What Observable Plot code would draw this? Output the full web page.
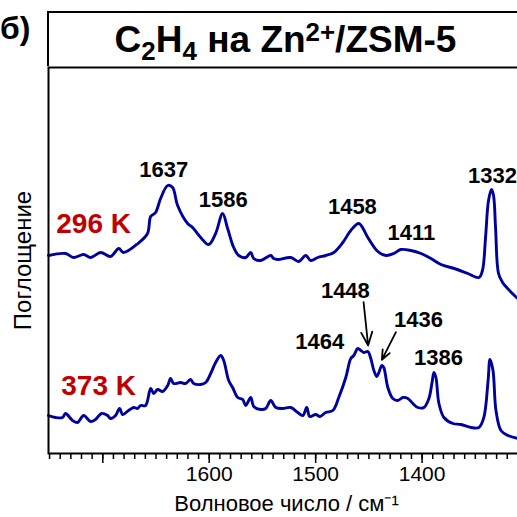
<!DOCTYPE html>
<html><head><meta charset="utf-8">
<script src="https://cdn.jsdelivr.net/npm/d3@7"></script>
<script src="https://cdn.jsdelivr.net/npm/@observablehq/plot@0.6"></script>
<style>
html,body{margin:0;padding:0;overflow:hidden;background:#fff;width:517px;height:517px;}
#wrap{position:relative;width:526px;height:517px;font-family:"Liberation Sans",Arial,sans-serif;color:#000;}
#head{position:relative;height:66px;}
#panel{position:absolute;left:0px;top:12px;font-size:32px;font-weight:bold;line-height:32px;white-space:nowrap;}
#tbox{position:absolute;left:47px;top:11px;width:477px;height:55px;border:2px solid #000;border-bottom:none;box-sizing:border-box;}
#ttext{position:absolute;left:47px;width:477px;top:21px;text-align:center;font-size:37px;font-weight:bold;line-height:37px;white-space:nowrap;}
.sb{font-size:0.7em;position:relative;top:0.3em;line-height:0;}
.sp{font-size:0.7em;position:relative;top:-0.42em;line-height:0;}
svg{display:block;}
</style>
</head><body>
<div id="wrap">
  <div id="head">
    <div id="panel">б)</div>
    <div id="tbox"></div>
    <div id="ttext">C<span class="sb">2</span>H<span class="sb">4</span> на Zn<span class="sp">2+</span>/ZSM-5</div>
  </div>
  <div id="chart"></div>
</div>
<script>
// Spectrum at 296 K (wavenumber, absorbance a.u.)
const wn296 = [1751,1735,1727.5,1718,1711.5,1702,1692.7,1685,1680.5,1667,1658,1655,1650.4,1645.7,1639,1634.4,1629.7,1620.3,1615.6,1608,1600.5,1594,1587.4,1582.7,1577,1572.3,1565.7,1561,1558.2,1551.6,1542.2,1539.4,1535.6,1523.4,1516,1509.3,1504.6,1498,1490.5,1483,1474.5,1467,1459.4,1451,1441.6,1434,1426.5,1420,1410.5,1401,1391.7,1382.3,1370,1357,1346.6,1343.3,1340.4,1337.6,1334.8,1332.9,1331,1328.2,1324.4,1319.7,1310.3];
const abs296 = [198,200,196,199,196,201,197,205,201,210,220,237,241,255,268,266,248,230,226,216,209,220,240,225,206,198,196,201,195,193,198,195,194,196,192,198,193,196,198,201,211,223,230,216,202,198,200,204,203,200,195,189,185,180,176,183,216,253,264,258,226,180,171,165,155];
// Spectrum at 373 K
const wn373 = [1751,1744.4,1737.8,1735,1728.4,1723.7,1718,1711.5,1706.8,1701.2,1695.5,1692.7,1688,1684.2,1681.4,1675.8,1671,1667.3,1664.5,1659.8,1655,1652.2,1648.5,1643.8,1639,1636.3,1633.4,1626.9,1622.2,1617.5,1614.6,1608,1603.3,1598.6,1594,1589.2,1586.4,1581.7,1578,1573.2,1568.5,1565.7,1561,1558.2,1551.6,1546.9,1542.2,1537.5,1531,1523.4,1516.8,1512,1508.4,1505.5,1499.9,1496,1490.5,1483.9,1478.3,1471.7,1467,1464.2,1460.4,1457.6,1454.8,1451,1448.2,1445.3,1442.5,1440.6,1437.8,1436,1432.2,1427.5,1422.8,1418,1413.4,1408.7,1404,1398.3,1393.6,1390.8,1388.9,1387,1384.2,1379.5,1371,1363.5,1354,1346.6,1342,1338,1336.2,1333.4,1330.6,1325.9,1319.3,1310];
const abs373 = [38,36,36,40,33,31,38,32,34,40,38,35,38,45,39,43,46,45,48,48,65,60,64,62,68,75,70,71,70,74,70,69,71,80,91,98,93,73,66,56,54,48,56,47,44,45,53,46,45,46,41,38,46,37,39,37,41,43,56,76,95,98,105,103,101,102,95,83,77,81,88,86,66,55,53,56,55,50,46,46,55,70,81,76,50,36,30,29,26,26,36,73,94,83,43,23,18,15];
// Peak annotations
const peakText = ["1637","1586","1458","1411","1332","1448","1436","1464","1386"];
const peakWn   = [1642.8,1586.8,1465.5,1410,1333.8,1472.1,1403.4,1496.1,1384.6];
const peakAbs  = [283.5,253.5,246.5,220.5,277.5,162.5,133.5,111.5,95.5];
// Temperature labels
const tempText = ["296 K","373 K"];
const tempWn   = [1708.6,1703.9];
const tempAbs  = [229,67];
// Arrows (1448, 1436)
const arrowWn1 = [1455,1424.6];
const arrowAbs1 = [151.3,121.3];
const arrowWn2 = [1450.7,1437.8];
const arrowAbs2 = [108,93.7];
// Axis ticks
const minorTicks = d3.range(1310,1751,10);
const majorTicks = [1700,1600,1500,1400];
const majorLabels = ["","1600","1500","1400"];
const xTitle = "Волновое число / см⁻¹";
const yTitle = "Поглощение";

const spectra = [
  ...wn296.map((w,i)=>({wn:w, a:abs296[i], s:"296"})),
  ...wn373.map((w,i)=>({wn:w, a:abs373[i], s:"373"}))
];
const peaks = peakText.map((t,i)=>({t, wn:peakWn[i], a:peakAbs[i]}));
const temps = tempText.map((t,i)=>({t, wn:tempWn[i], a:tempAbs[i]}));
const arrows = arrowWn1.map((w,i)=>({x1:w,y1:arrowAbs1[i],x2:arrowWn2[i],y2:arrowAbs2[i]}));
const labelMap = new Map(majorTicks.map((t,i)=>[t,majorLabels[i]]));

const chart = Plot.plot({
  width: 526, height: 451,
  marginLeft: 48, marginRight: 2, marginTop: 1, marginBottom: 64,
  x: {domain: [1751, 1303.8], axis: null},
  y: {domain: [0, 386], axis: null},
  style: {fontFamily: "Liberation Sans, Arial, sans-serif", background: "white", overflow: "visible", color: "black"},
  marks: [
    Plot.axisX({ticks: minorTicks, tickSize: 6, tickFormat: () => "", strokeWidth: 1.5, label: null}),
    Plot.axisX({ticks: majorTicks, tickSize: 10, tickPadding: 3, tickFormat: d => labelMap.get(d), fontSize: 21, strokeWidth: 1.5, label: null}),
    Plot.line(spectra, {x: "wn", y: "a", z: "s", stroke: "#00009c", strokeWidth: 2.9, strokeLinejoin: "round", curve: "catmull-rom"}),
    Plot.frame({stroke: "black", strokeWidth: 2}),
    Plot.text(peaks, {x: "wn", y: "a", text: "t", fontSize: 22, fontWeight: "bold", fill: "black"}),
    Plot.text(temps, {x: "wn", y: "a", text: "t", fontSize: 28, fontWeight: "bold", fill: "#c00000"}),
    Plot.arrow(arrows, {x1: "x1", y1: "y1", x2: "x2", y2: "y2", stroke: "black", strokeWidth: 1.8, headLength: 12, headAngle: 45}),
    Plot.text([yTitle], {text: d => d, frameAnchor: "left", textAnchor: "middle", lineAnchor: "middle", rotate: -90, dx: -25, fontSize: 24}),
    Plot.text([xTitle], {text: d => d, frameAnchor: "bottom", textAnchor: "middle", lineAnchor: "middle", dy: 50, fontSize: 22})
  ]
});
document.getElementById("chart").appendChild(chart);
</script>
</body></html>
